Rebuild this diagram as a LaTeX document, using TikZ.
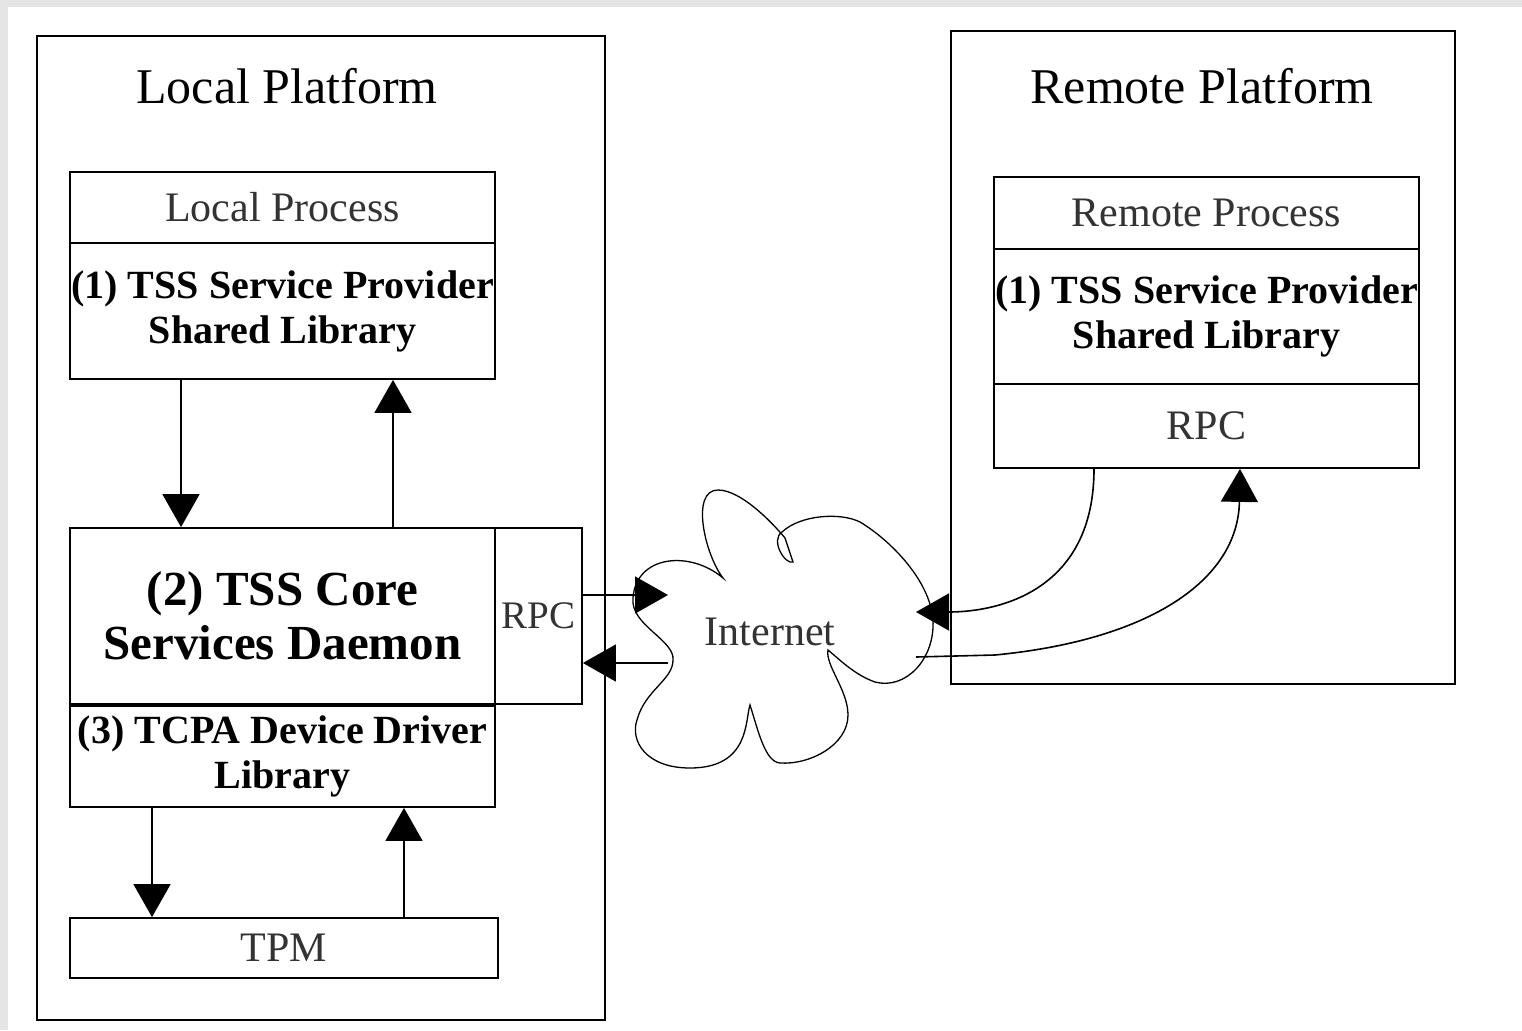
\documentclass[tikz,border=0pt]{standalone}
\usepackage{fontspec}
\setmainfont{Liberation Serif}
\usetikzlibrary{positioning, shapes.geometric, arrows.meta}

\begin{document}
\begin{tikzpicture}[x=1pt, y=-1pt,
  box/.style={rectangle, draw, line width=1.8pt, inner sep=0pt, align=center},
  lbl/.style={font=\fontsize{42}{47}\selectfont, text=black!80},
  bld/.style={font=\fontsize{40}{45}\selectfont\bfseries},
  ttl/.style={font=\fontsize{50}{55}\selectfont},
  arr/.style={-{Triangle[length=33pt, width=37pt]}, line width=1.6pt}]
  \useasboundingbox (0,0) rectangle (1522,1030);
  \fill[black!10] (0,0) rectangle (1522,1030);
  \fill[white] (8,7) rectangle (1522,1030);

  % platforms
  \draw (321,528)    node[box, minimum width=568pt, minimum height=984pt](lplat) {};
  \draw (1203,357.5) node[box, minimum width=504pt, minimum height=653pt](rplat) {};
  \draw (287,86)     node[ttl](ltitle) {Local Platform};
  \draw (1202,86)    node[ttl](rtitle) {Remote Platform};

  % local side
  \draw (282.5,207.5) node[box, lbl, minimum width=425pt, minimum height=71pt](lproc) {Local Process};
  \draw (282.5,311)   node[box, bld, minimum width=425pt, minimum height=136pt](lsp) {(1) TSS Service Provider\\Shared Library};
  \draw (282.5,616)   node[box, font=\fontsize{49}{54}\selectfont\bfseries, minimum width=425pt, minimum height=176pt](core) {(2) TSS Core\\Services Daemon};
  \draw (538.5,616)   node[box, lbl, font=\fontsize{39}{44}\selectfont, minimum width=87pt, minimum height=176pt](lrpc) {RPC};
  \draw (282.5,756.5) node[box, bld, minimum width=425pt, minimum height=101pt](tcpa) {(3) TCPA Device Driver\\Library};
  \draw (284,948)     node[box, lbl, minimum width=428pt, minimum height=60pt](tpm) {TPM};

  % remote side
  \draw (1206.5,213)   node[box, lbl, minimum width=425pt, minimum height=72pt](rproc) {Remote Process};
  \draw (1206.5,316.5) node[box, bld, minimum width=425pt, minimum height=135pt](rsp) {(1) TSS Service Provider\\Shared Library};
  \draw (1206.5,426)   node[box, lbl, minimum width=425pt, minimum height=84pt](rrpc) {RPC};

  % internet cloud
  \draw[line width=1.3pt] (673,660) .. controls (675,640) and (630,625) .. (633,598)
    .. controls (636,555) and (690,550) .. (723,578)
    .. controls (705,555) and (690,490) .. (718,490)
    .. controls (740,490) and (770,520) .. (785,538) -- (793,562)
    .. controls (785,565) and (770,540) .. (782,532)
    .. controls (800,515) and (840,512) .. (860,522)
    .. controls (890,540) and (930,580) .. (933,620)
    .. controls (935,660) and (905,690) .. (875,682)
    .. controls (855,675) and (840,660) .. (828,650)
    .. controls (825,665) and (848,690) .. (848,715)
    .. controls (848,745) and (810,765) .. (780,763)
    .. controls (765,762) and (758,730) .. (750,705)
    .. controls (745,720) and (750,768) .. (690,768)
    .. controls (645,768) and (630,740) .. (637,720)
    .. controls (645,690) and (673,680) .. (673,660) -- cycle;
  \draw (770,632) node[lbl](inet) {Internet};
  \coordinate (cin)  at (668,595);
  \coordinate (cout) at (668,663);
  \coordinate (rin)  at (916,612);
  \coordinate (rout) at (916,657);

\path ([xshift=-101.5pt]lsp.south) edge[arr] ([xshift=-101.5pt]core.north)
      ([xshift=110.5pt]core.north)  edge[arr] ([xshift=110.5pt]lsp.south)
      ([xshift=-130.5pt]tcpa.south) edge[arr] ([xshift=-130.5pt]tcpa.south |- tpm.north)
      ([xshift=121.5pt]tcpa.south |- tpm.north) edge[arr] ([xshift=121.5pt]tcpa.south)
      (lrpc.east |- cin) edge[arr] (cin)
      (cout) edge[arr] (lrpc.east |- cout);
\draw[arr] ([xshift=-112.5pt]rrpc.south) .. controls (1094,590) and (1000,612) .. (rin);
\draw[arr] (rout) -- (995,655) .. controls (1150,640) and (1238,580) .. ([xshift=33.5pt]rrpc.south);
\end{tikzpicture}
\end{document}
